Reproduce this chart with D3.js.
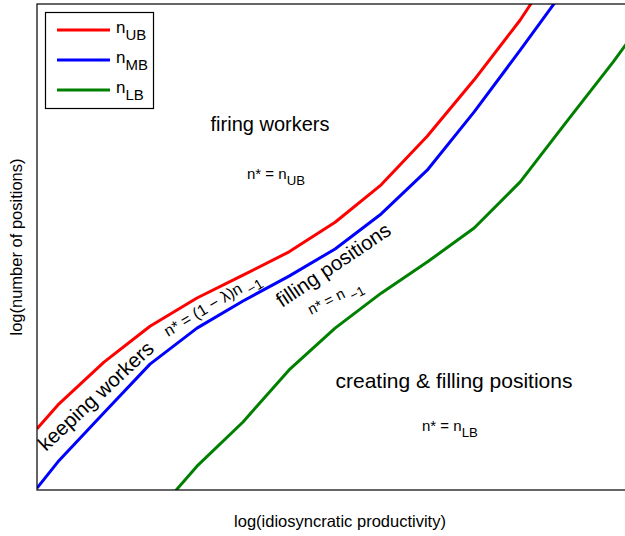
<!DOCTYPE html>
<html>
<head>
<meta charset="utf-8">
<script src="https://cdn.jsdelivr.net/npm/d3@7"></script>
<style>
  body { margin: 0; background: #fff; }
  text { font-family: "Liberation Sans", Arial, sans-serif; fill: #000; }
</style>
</head>
<body>
<div id="chart"></div>
<script>
// grid of log productivity
var prodGrid = [0, 0.45, 1.44, 2.43, 3.44, 4.43, 5.42, 6.41, 7.40, 8.39, 9.40, 10.39, 11.38, 12.39, 13.38];

// log(number of positions) for each bound
var nUB = [1.26, 1.75, 2.63, 3.37, 3.95, 4.42, 4.90, 5.51, 6.28, 7.28, 8.44, 9.67, 11.11, 12.5, 14.0];
var nMB = [0.04, 0.58, 1.59, 2.59, 3.33, 3.89, 4.40, 4.96, 5.68, 6.58, 7.78, 9.05, 10.35, 11.8, 13.3];
var nLB = [-3.5, -2.6, -1.6, -0.62, 0.49, 1.40, 2.47, 3.33, 4.05, 4.69, 5.39, 6.34, 7.57, 8.81, 10.1];

var seriesNames = ["UB", "MB", "LB"];
var seriesColors = ["#ff0000", "#0000ff", "#008000"];

//svg size
var svgWidth = 625;
var svgHeight = 536;

var margin = { top: 4, right: -18, bottom: 46, left: 37 };
var width = svgWidth - margin.left - margin.right;
var height = svgHeight - margin.top - margin.bottom;

var svg = d3.select("#chart")
  .append("svg")
  .attr("width", svgWidth)
  .attr("height", svgHeight);

var chartGroup = svg.append("g")
  .attr("transform", `translate(${margin.left}, ${margin.top})`);

//scales
var xScale = d3.scaleLinear()
  .domain([0, 13.03])
  .range([0, width]);

var yScale = d3.scaleLinear()
  .domain([0, 10])
  .range([height, 0]);

//clip the lines to the axes box
svg.append("defs").append("clipPath")
  .attr("id", "plotClip")
  .append("rect")
  .attr("width", width)
  .attr("height", height);

var line = d3.line()
  .x(d => xScale(d[0]))
  .y(d => yScale(d[1]));

var allSeries = [nUB, nMB, nLB];

chartGroup.append("g")
  .attr("clip-path", "url(#plotClip)")
  .selectAll("path")
  .data(allSeries)
  .enter()
  .append("path")
  .attr("d", s => line(prodGrid.map((p, i) => [p, s[i]])))
  .attr("fill", "none")
  .attr("stroke", (s, i) => seriesColors[i])
  .attr("stroke-width", 3)
  .attr("stroke-linejoin", "round");

//axes box (no ticks)
chartGroup.append("rect")
  .attr("x", 0)
  .attr("y", 0)
  .attr("width", width)
  .attr("height", height)
  .attr("fill", "none")
  .attr("stroke", "#000")
  .attr("stroke-width", 1.2);

//helper for text with subscript
function subText(g, x, y, main, sub, size, rotate) {
  var t = g.append("text")
    .attr("font-size", size)
    .attr("transform", `translate(${x}, ${y})` + (rotate ? ` rotate(${rotate})` : ""));
  t.append("tspan").text(main);
  t.append("tspan")
    .attr("dy", size * 0.4)
    .attr("font-size", size * 0.88)
    .text(sub);
  return t;
}

//legend
var legend = svg.append("g");
legend.append("rect")
  .attr("x", 45.5)
  .attr("y", 12.5)
  .attr("width", 108)
  .attr("height", 96)
  .attr("fill", "#fff")
  .attr("stroke", "#000")
  .attr("stroke-width", 1.2);

seriesNames.forEach(function(name, i) {
  var ly = 30 + i * 30;
  legend.append("line")
    .attr("x1", 57)
    .attr("x2", 110)
    .attr("y1", ly)
    .attr("y2", ly)
    .attr("stroke", seriesColors[i])
    .attr("stroke-width", 3);
  subText(legend, 116, ly + 3, "n", name, 17);
});

//region annotations
svg.append("text")
  .attr("x", 270)
  .attr("y", 131)
  .attr("font-size", 20)
  .attr("text-anchor", "middle")
  .text("firing workers");

subText(svg, 247, 179, "n* = n", "UB", 15);

svg.append("text")
  .attr("x", 454)
  .attr("y", 388)
  .attr("font-size", 21)
  .attr("text-anchor", "middle")
  .text("creating & filling positions");

subText(svg, 422, 431, "n* = n", "LB", 15);

svg.append("text")
  .attr("transform", "translate(46, 452) rotate(-43)")
  .attr("font-size", 20.5)
  .text("keeping workers");

subText(svg, 168, 337, "n* = (1 \u2212 \u03bb)n ", "\u22121", 16, -31);

svg.append("text")
  .attr("transform", "translate(282, 308) rotate(-34)")
  .attr("font-size", 20.5)
  .text("filling positions");

subText(svg, 311, 315, "n* = n ", "\u22121", 15, -27);

//axis labels
svg.append("text")
  .attr("x", 340)
  .attr("y", 527)
  .attr("font-size", 16.5)
  .attr("text-anchor", "middle")
  .text("log(idiosyncratic productivity)");

svg.append("text")
  .attr("transform", `translate(22, ${margin.top + height / 2}) rotate(-90)`)
  .attr("font-size", 16.5)
  .attr("text-anchor", "middle")
  .text("log(number of positions)");
</script>
</body>
</html>
